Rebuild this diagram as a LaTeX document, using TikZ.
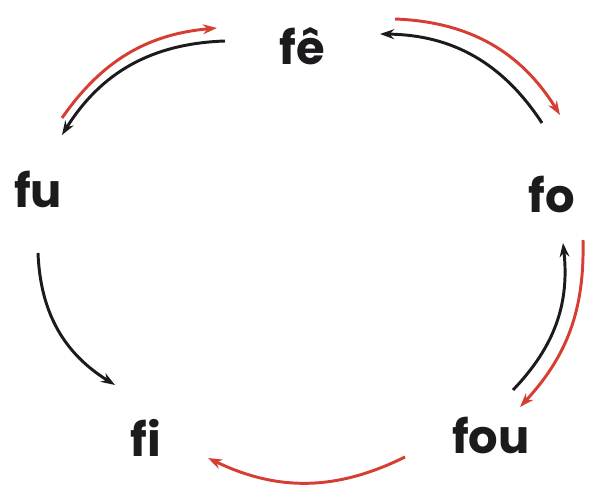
\documentclass[tikz,border=0pt]{standalone}
\usepackage{fontspec}
\setmainfont{Poppins}
\usepackage{tikz}
\usetikzlibrary{arrows.meta}
\definecolor{arrred}{RGB}{214,62,52}
\definecolor{arrblack}{RGB}{28,26,28}

\begin{document}
\begin{tikzpicture}[
  >={Stealth[length=10pt,width=7pt]},
  syl/.style={font=\fontsize{33}{38}\selectfont\bfseries,text=arrblack,inner sep=0pt},
  redarr/.style={arrred,line width=2.1pt,->},
  blackarr/.style={arrblack,line width=2.1pt,->}
]
\useasboundingbox (0,0) rectangle (14.825,12.15);

% 音節
\node[syl] (fe)  at (7.55,11.0)  {fê};
\node[syl] (fu)  at (0.95,7.425) {fu};
\node[syl] (fo)  at (13.8,7.275) {fo};
\node[syl] (fou) at (12.275,1.25) {fou};
\node[syl] (fi)  at (3.65,1.2)   {fi};

% 矢印の端点
\coordinate (fu-fe1) at (1.55,9.2);
\coordinate (fu-fe2) at (5.425,11.45);
\coordinate (fe-fu1) at (5.625,11.125);
\coordinate (fe-fu2) at (1.55,8.775);
\coordinate (fe-fo1) at (9.875,11.675);
\coordinate (fe-fo2) at (14.0,9.275);
\coordinate (fo-fe1) at (13.55,9.075);
\coordinate (fo-fe2) at (9.5,11.3);
\coordinate (fu-fi1) at (0.95,5.825);
\coordinate (fu-fi2) at (2.875,2.525);
\coordinate (fou-fo1) at (12.825,2.4);
\coordinate (fou-fo2) at (14.075,6.075);
\coordinate (fo-fou1) at (14.575,6.15);
\coordinate (fo-fou2) at (13.0,1.975);
\coordinate (fou-fi1) at (10.125,0.725);
\coordinate (fou-fi2) at (5.2,0.7);

% 上の二組
\draw[redarr]   (fu-fe1) to[bend left=25]  (fu-fe2);
\draw[blackarr] (fe-fu1) to[bend right=28] (fe-fu2);
\draw[redarr]   (fe-fo1) to[bend left=28]  (fe-fo2);
\draw[blackarr] (fo-fe1) to[bend right=28] (fo-fe2);

% 下の矢印
\draw[blackarr] (fu-fi1) to[bend right=28] (fu-fi2);
\draw[blackarr] (fou-fo1) to[bend right=25] (fou-fo2);
\draw[redarr]   (fo-fou1) to[bend left=22] (fo-fou2);
\draw[redarr]   (fou-fi1) to[bend left=26] (fou-fi2);
\end{tikzpicture}
\end{document}
